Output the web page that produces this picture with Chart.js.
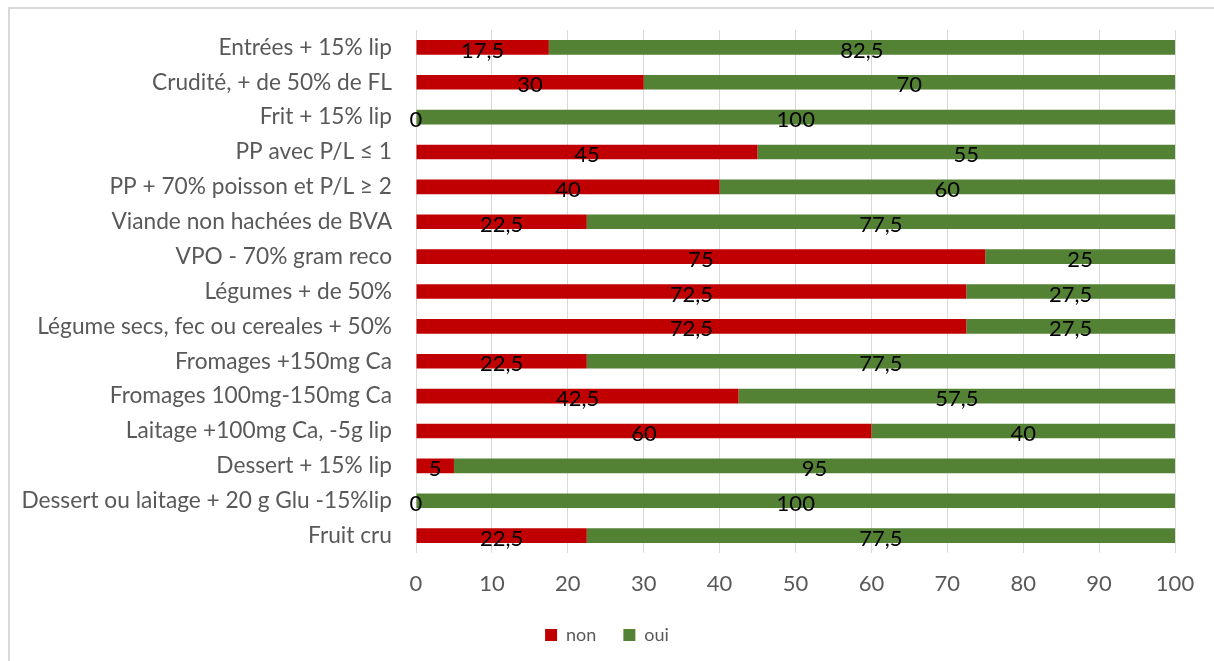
<!DOCTYPE html>
<html>
<head>
<meta charset="utf-8">
<script src="https://cdn.jsdelivr.net/npm/chart.js@4"></script>
<style>
    html, body { margin: 0; padding: 0; background: #fff; }
    #frame {
        position: absolute; left: 8px; top: 7px; width: 1300px; height: 700px;
        border-top: 2px solid #d9d9d9; border-left: 2px solid #d9d9d9;
    }
    #wrap { position: absolute; left: 0; top: 0; width: 1214px; height: 661px; }
</style>
</head>
<body>
<div id="frame"></div>
<div id="wrap"><canvas id="chart" width="1214" height="661"></canvas></div>
<script>
// Categories, top to bottom
const categories = [
    'Entrées + 15% lip',
    'Crudité, + de 50% de FL',
    'Frit + 15% lip',
    'PP avec P/L ≤ 1',
    'PP + 70% poisson et P/L ≥ 2',
    'Viande non hachées de BVA',
    'VPO - 70% gram reco',
    'Légumes + de 50%',
    'Légume secs, fec ou cereales + 50%',
    'Fromages +150mg Ca',
    'Fromages 100mg-150mg Ca',
    'Laitage +100mg Ca, -5g lip',
    'Dessert + 15% lip',
    'Dessert ou laitage + 20 g Glu -15%lip',
    'Fruit cru'
];

const nonValues = [17.5, 30, 0, 45, 40, 22.5, 75, 72.5, 72.5, 22.5, 42.5, 60, 5, 0, 22.5];
const ouiValues = [82.5, 70, 100, 55, 60, 77.5, 25, 27.5, 27.5, 77.5, 57.5, 40, 95, 100, 77.5];

const xTicks = [0, 10, 20, 30, 40, 50, 60, 70, 80, 90, 100];

const FONT = 'Lato';

// draws the value in the middle of each bar segment
const segmentLabels = {
    id: 'segmentLabels',
    afterLayout(chart) {
        // center the legend on the whole canvas, not on the padded box
        chart.legend.left = 0;
        chart.legend.right = chart.width;
    },
    afterDatasetsDraw(chart) {
        const ctx = chart.ctx;
        ctx.save();
        ctx.font = '22px ' + FONT;
        ctx.fillStyle = '#000';
        ctx.textAlign = 'center';
        ctx.textBaseline = 'middle';
        chart.data.datasets.forEach((ds, i) => {
            const meta = chart.getDatasetMeta(i);
            meta.data.forEach((bar, j) => {
                const v = ds.data[j];
                const cx = (bar.x + bar.base) / 2;
                ctx.fillText(String(v).replace('.', ','), cx, bar.y + 3);
            });
        });
        ctx.restore();
    }
};

const ctx = document.getElementById('chart').getContext('2d');
new Chart(ctx, {
    type: 'bar',
    data: {
        labels: categories,
        datasets: [
            { label: 'non', data: nonValues, backgroundColor: '#C00000' },
            { label: 'oui', data: ouiValues, backgroundColor: '#548235' }
        ]
    },
    options: {
        indexAxis: 'y',
        responsive: false,
        animation: false,
        categoryPercentage: 1,
        barPercentage: 0.42,
        layout: { padding: { left: 0, top: 30, right: 39, bottom: 7 } },
        scales: {
            x: {
                stacked: true,
                min: 0,
                max: 100,
                afterBuildTicks: (scale) => { scale.ticks = xTicks.map(v => ({ value: v })); },
                afterFit: (scale) => { scale.height = 46; },
                grid: { color: '#d9d9d9', lineWidth: 1, drawTicks: false },
                border: { display: false },
                ticks: { color: '#595959', font: { family: FONT, size: 22 }, padding: 18 }
            },
            y: {
                stacked: true,
                afterFit: (scale) => {
                    scale.width = 416;
                    scale.paddingTop = 0;
                    scale.paddingBottom = 0;
                },
                grid: { display: false, drawTicks: false },
                border: { display: false },
                ticks: { color: '#595959', font: { family: FONT, size: 22.7 }, padding: 24 }
            }
        },
        plugins: {
            legend: {
                position: 'bottom',
                labels: {
                    color: '#595959',
                    font: { family: FONT, size: 18 },
                    boxWidth: 12,
                    boxHeight: 12,
                    padding: 27
                }
            },
            tooltip: { enabled: false }
        }
    },
    plugins: [segmentLabels]
});
</script>
</body>
</html>
